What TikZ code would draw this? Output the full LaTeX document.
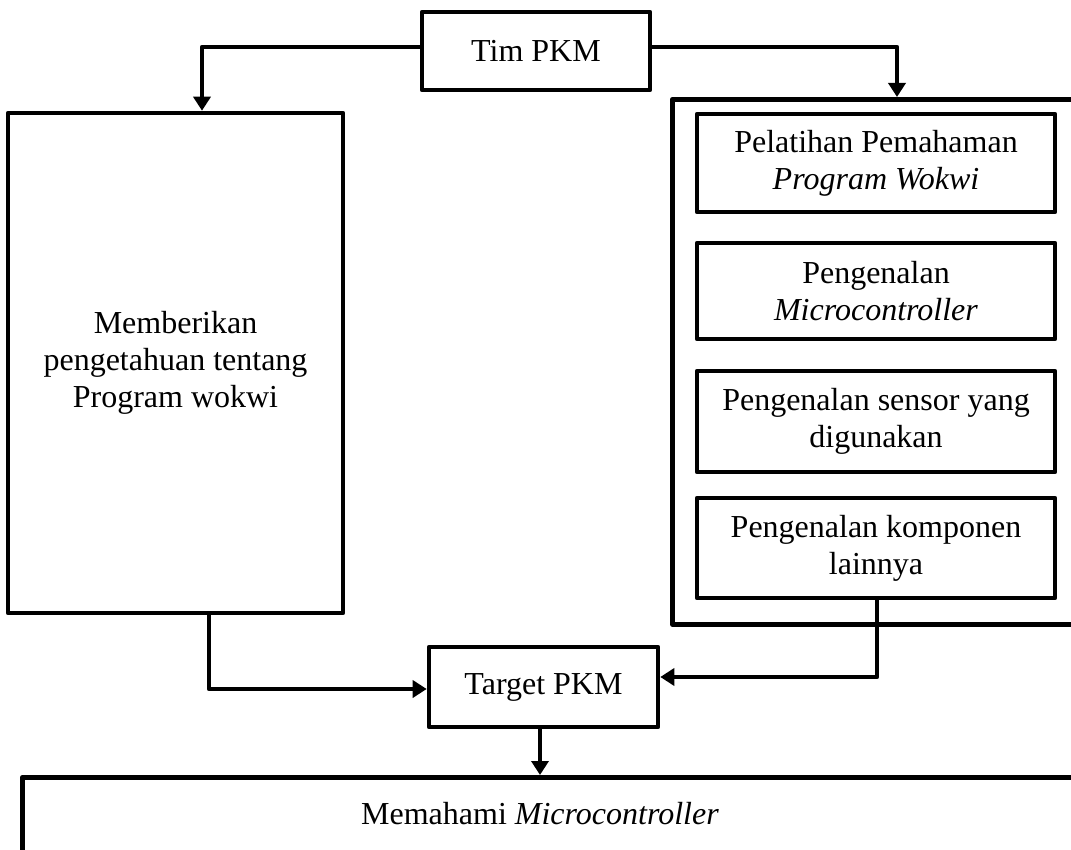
\documentclass[tikz,border=0pt]{standalone}
\usepackage{fontspec}
\setmainfont{Liberation Serif}
\usetikzlibrary{arrows.meta}
\begin{document}
\begin{tikzpicture}[x=1pt,y=-1pt,
  box/.style={draw, line width=4.6pt, line join=round, rectangle, inner sep=0pt, align=center, font=\fontsize{32}{37}\selectfont},
  conn/.style={line width=4.6pt, line join=round, -{Triangle[width=17pt,length=14pt]}},
  txt/.style={inner sep=0pt, align=center, font=\fontsize{32}{37}\selectfont}]
\useasboundingbox (0,0) rectangle (1071,850);
\clip (0,0) rectangle (1071,850);
\node[box, minimum width=228, minimum height=78] (tim) at (536,51) {Tim PKM};
\node[box, minimum width=335, minimum height=500] (left) at (175.5,363) {Memberikan\\pengetahuan tentang\\Program wokwi};
\node[box, minimum width=440, minimum height=525, anchor=north west] (cont) at (670,97) {};
\node[box, minimum width=358, minimum height=98] (b1) at (876,163) {Pelatihan Pemahaman\\\textit{Program Wokwi}};
\node[box, minimum width=358, minimum height=96] (b2) at (876,291) {Pengenalan\\\textit{Microcontroller}};
\node[box, minimum width=358, minimum height=101] (b3) at (876,421.5) {Pengenalan sensor yang\\digunakan};
\node[box, minimum width=358, minimum height=100] (b4) at (876,548) {Pengenalan komponen\\lainnya};
\node[box, minimum width=229, minimum height=80] (target) at (543.5,687) {Target PKM};
\node[box, minimum width=1100, minimum height=150, anchor=north west] (goal) at (20,775) {};
\node[txt] (goaltxt) at (540,814) {Memahami \textit{Microcontroller}};
\coordinate (tl) at (202,47);
\coordinate (tr) at (897,47);
\coordinate (r4) at (877,677);
\coordinate (l4) at (209,689);
\draw[conn] (tim.west |- tl) -| (left.north -| tl);
\draw[conn] (tim.east |- tr) -| (cont.north -| tr);
\draw[conn] (b4.south -| r4) |- (target.east |- r4);
\draw[conn] (left.south -| l4) |- (target.west |- l4);
\draw[conn] (target.south -| 540,0) -- (goal.north -| 540,0);
\end{tikzpicture}
\end{document}
